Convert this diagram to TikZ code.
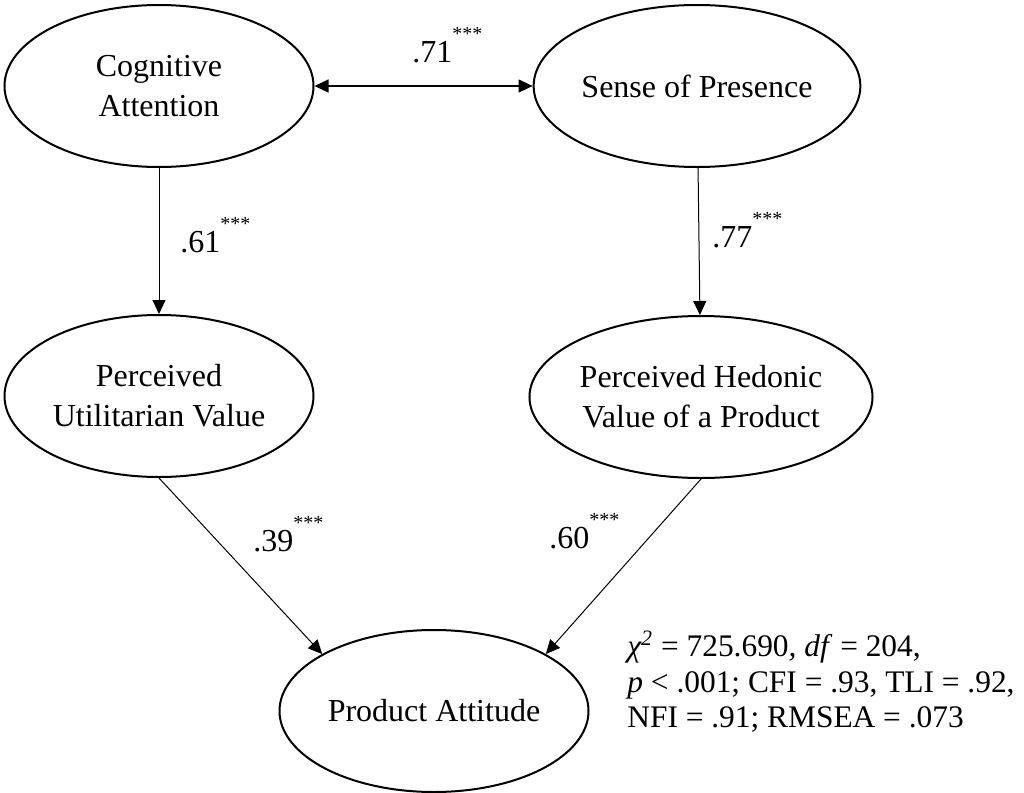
\documentclass[tikz,border=0pt]{standalone}
\usepackage{fontspec}
\setmainfont{Liberation Serif}
\usetikzlibrary{arrows.meta,shapes.geometric}

\newcommand{\threestar}{\raisebox{11pt}{\fontsize{10pt}{10pt}\selectfont ***}}

\begin{document}
\begin{tikzpicture}[x=0.5pt,y=-0.5pt,>={Triangle[length=7pt,width=6.5pt]},
  latent/.style={draw,ellipse,line width=1pt,minimum width=154.5pt,minimum height=81pt,inner sep=0pt,align=center,font=\fontsize{16pt}{20pt}\selectfont},
  effect/.style={->,line width=0.5pt},
  coef/.style={anchor=base west,inner sep=0pt,font=\fontsize{16pt}{20pt}\selectfont}]

\useasboundingbox (0,0) rectangle (1024,793);

\node[latent] (ca) at (159,86) {Cognitive\\Attention};
\node[latent] (sp) at (697,86) {Sense of Presence};
\node[latent] (pu) at (159,396) {Perceived\\Utilitarian Value};
\node[latent] (ph) at (701,397) {Perceived Hedonic\\Value of a Product};
\node[latent] (pa) at (434,711) {Product Attitude};

\draw[<->,line width=0.6pt] (ca) -- (sp);
\draw[effect] (ca) -- (pu);
\draw[effect] (sp) -- (ph);
\draw[effect] (pu.south) -- (pa.153);
\draw[effect] (ph.south) -- (pa.27);

\node[coef] (c71) at (412,62) {.71\threestar};
\node[coef] (c61) at (180,252) {.61\threestar};
\node[coef] (c77) at (712,247) {.77\threestar};
\node[coef] (c39) at (253,551) {.39\threestar};
\node[coef] (c60) at (549,548) {.60\threestar};

\node (fit) at (627,631) [anchor=north west,inner sep=0pt,align=left,font=\fontsize{15.7pt}{17.8pt}\selectfont]
  {\textit{χ\textsuperscript{2}} = 725.690\textit{, df} = 204,\\
   \textit{p} < .001; CFI = .93, TLI = .92,\\
   NFI = .91; RMSEA = .073};

\end{tikzpicture}
\end{document}
